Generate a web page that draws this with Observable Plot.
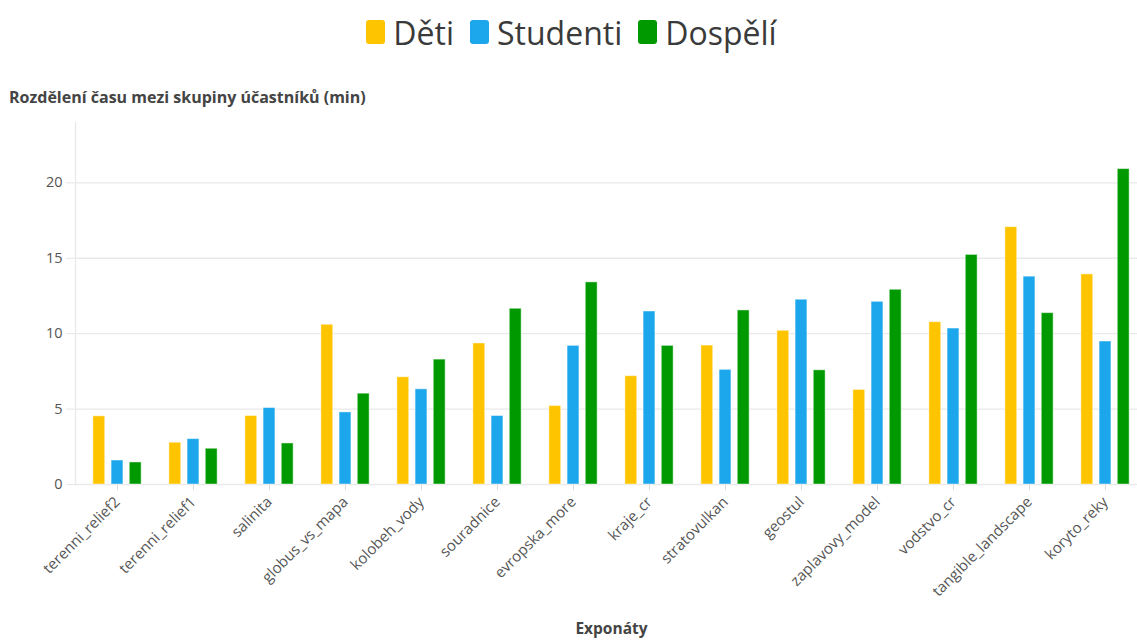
<!DOCTYPE html>
<html>
<head>
<meta charset="utf-8">
<script src="https://cdn.jsdelivr.net/npm/d3@7"></script>
<script src="https://cdn.jsdelivr.net/npm/@observablehq/plot@0.6"></script>
<style>
  body { margin: 0; background: #fff; font-family: "Open Sans", sans-serif; width: 1137px; height: 641px; overflow: hidden; }
  #legend { height: 64px; display: flex; align-items: center; justify-content: center; padding-left: 6px; box-sizing: border-box; }
  .item { display: flex; align-items: center; margin: 0 8px; }
  .sw { width: 19px; height: 24px; border-radius: 3px; margin-right: 8px; }
  .lab { font-size: 32px; color: #3a3a3a; }
  #title { height: 46px; box-sizing: border-box; padding: 23px 0 0 9px; line-height: 20px; font-size: 16px; font-weight: 700; color: #444; }
  #xlabel { padding-left: 86px; text-align: center; font-size: 15.5px; font-weight: 700; color: #444; line-height: 26px; }
</style>
</head>
<body>
<div id="legend"></div>
<div id="title">Rozdělení času mezi skupiny účastníků (min)</div>
<div id="chart"></div>
<div id="xlabel">Exponáty</div>
<script>
const categories = ["terenni_relief2", "terenni_relief1", "salinita", "globus_vs_mapa", "kolobeh_vody", "souradnice", "evropska_more", "kraje_cr", "stratovulkan", "geostul", "zaplavovy_model", "vodstvo_cr", "tangible_landscape", "koryto_reky"];
const deti     = [4.52, 2.77, 4.54, 10.59, 7.11, 9.35, 5.20, 7.18, 9.21, 10.19, 6.27, 10.76, 17.06, 13.93];
const studenti = [1.59, 3.01, 5.07, 4.78, 6.31, 4.54, 9.19, 11.47, 7.60, 12.25, 12.11, 10.34, 13.78, 9.48];
const dospeli  = [1.46, 2.37, 2.72, 6.02, 8.28, 11.65, 13.40, 9.19, 11.54, 7.57, 12.91, 15.22, 11.36, 20.91];
const seriesNames = ["Děti", "Studenti", "Dospělí"];
const seriesColors = ["#FFC400", "#1CA7EC", "#009A00"];
const yTicks = [0, 5, 10, 15, 20];

const seriesValues = [deti, studenti, dospeli];

// legend
const legend = document.getElementById("legend");
seriesNames.forEach((n, k) => {
  const it = document.createElement("div");
  it.className = "item";
  it.innerHTML = `<div class="sw" style="background:${seriesColors[k]}"></div><span class="lab">${n}</span>`;
  legend.appendChild(it);
});

const step = (1147.6 - 74.4) / categories.length;
const barW = 12.5, offset = 18.2;

const barMarks = seriesValues.map((vals, k) => {
  const rows = categories.map((c, i) => ({cat: c, value: vals[i]}));
  const off = (k - 1) * offset;
  return Plot.barY(rows, {
    x: "cat", y: "value", fill: seriesColors[k],
    stroke: "#fff", strokeOpacity: 0.45, strokeWidth: 1,
    insetLeft: step / 2 + off - barW / 2,
    insetRight: step / 2 - off - barW / 2
  });
});

const chart = Plot.plot({
  width: 1137,
  height: 505,
  marginTop: 12,
  marginBottom: 131,
  marginLeft: 75,
  marginRight: 0,
  style: {fontFamily: "Open Sans, sans-serif", background: "#fff", overflow: "visible"},
  x: {domain: categories, range: [74.4, 1147.6], padding: 0},
  y: {domain: [0, 24]},
  marks: [
    Plot.ruleY(yTicks, {stroke: "#e9e9e9", strokeWidth: 1.3}),
    Plot.frame({anchor: "left", stroke: "#e9e9e9", strokeWidth: 1.3}),
    Plot.axisY({ticks: yTicks, tickSize: 9, tickPadding: 4, stroke: "#e6e6e6", fill: "#555", fontSize: 14.5, label: null}),
    Plot.axisX({tickSize: 6, tickPadding: 9, tickRotate: -45, stroke: "#dcdcdc", fill: "#555", fontSize: 15, label: null}),
    ...barMarks
  ]
});
document.getElementById("chart").appendChild(chart);
</script>
</body>
</html>
